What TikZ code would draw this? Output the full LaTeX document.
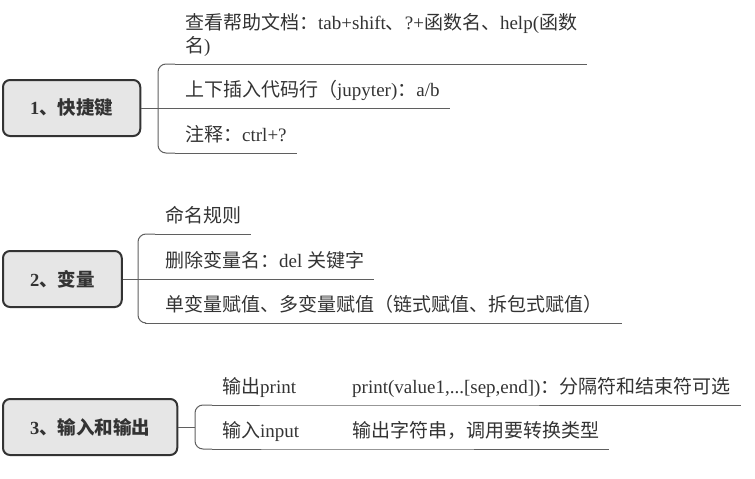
\documentclass[tikz,border=0pt]{standalone}
\usepackage{fontspec}
\setmainfont{Liberation Serif}
\newfontfamily\cjk{Noto Sans CJK SC}
\newcommand{\zh}[1]{{\cjk #1}}
\usetikzlibrary{positioning}
\definecolor{topicgray}{RGB}{230,230,230}
\definecolor{inkgray}{RGB}{51,51,51}
\definecolor{linegray}{RGB}{95,95,95}

\begin{document}
\begin{tikzpicture}[
    x=1pt, y=-1pt,
    topic/.style={rectangle, draw=inkgray, line width=2pt, fill=topicgray,
                  rounded corners=7pt, minimum height=56pt, inner xsep=27pt,
                  anchor=west, text=inkgray,
                  font=\fontsize{18.5pt}{23pt}\selectfont\bfseries},
    item/.style={anchor=south west, inner xsep=10pt, inner ysep=7pt,
                 text height=13pt, text depth=4pt, text=inkgray,
                 font=\fontsize{19pt}{23pt}\selectfont},
    uline/.style={draw=linegray, line width=1pt},
    bracket/.style={uline, rounded corners=8pt}
]
\useasboundingbox (0,0) rectangle (755,479);
\node[topic] (k) at (2,108) {1\zh{、快捷键}};
\node[item] (h1) at (175,64) {\begin{tabular}[b]{@{}l@{}}\zh{查看帮助文档：}tab+shift\zh{、}?+\zh{函数名、}help(\zh{函数}\\\zh{名})\end{tabular}};
\node[item] (h2) at (175,108) {\zh{上下插入代码行（}jupyter)\zh{：}a/b};
\node[item] (h3) at (175,153) {\zh{注释：}ctrl+?};
\coordinate (j1) at (158,108);
\node[topic] (b) at (2,279) {2\zh{、变量}};
\node[item] (v1) at (155,234) {\zh{命名规则}};
\node[item] (v2) at (155,279) {\zh{删除变量名：}del \zh{关键字}};
\node[item, inner xsep=20pt, xshift=-10pt] (v3) at (155,323) {\zh{单变量赋值、多变量赋值（链式赋值、拆包式赋值）}};
\coordinate (j2) at (138,279);
\node[topic] (io) at (2,427) {3\zh{、输入和输出}};
\node[item] (o1) at (212,405) {\zh{输出}print};
\node[item] (o2) at (342,405) {print(value1,...[sep,end])\zh{：分隔符和结束符可选}};
\node[item] (i1) at (212,449) {\zh{输入}input};
\node[item] (i2) at (342,449) {\zh{输出字符串，调用要转换类型}};
\coordinate (j3) at (195,427);
\draw[bracket] (h1.south west) -| (j1) |- (h3.south west);
\draw[uline] (k.east) -- (h2.south east);
\draw[uline] (h1.south west) -- (h1.south east);
\draw[uline] (h3.south west) -- (h3.south east);
\draw[bracket] (v1.south west) -| (j2) |- (v3.south west);
\draw[uline] (b.east) -- (v2.south east);
\draw[uline] (v1.south west) -- (v1.south east);
\draw[uline] (v3.south west) -- (v3.south east);
\draw[bracket] (o1.south west) -| (j3) |- (i1.south west);
\draw[uline] (io.east) -- (j3);
\draw[uline] (o1.south west) -- (o1.south east) -- (o2.south west) -- (o2.south east);
\draw[uline] (i1.south west) -- (i1.south east) -- (i2.south west) -- (i2.south east);
\end{tikzpicture}
\end{document}
